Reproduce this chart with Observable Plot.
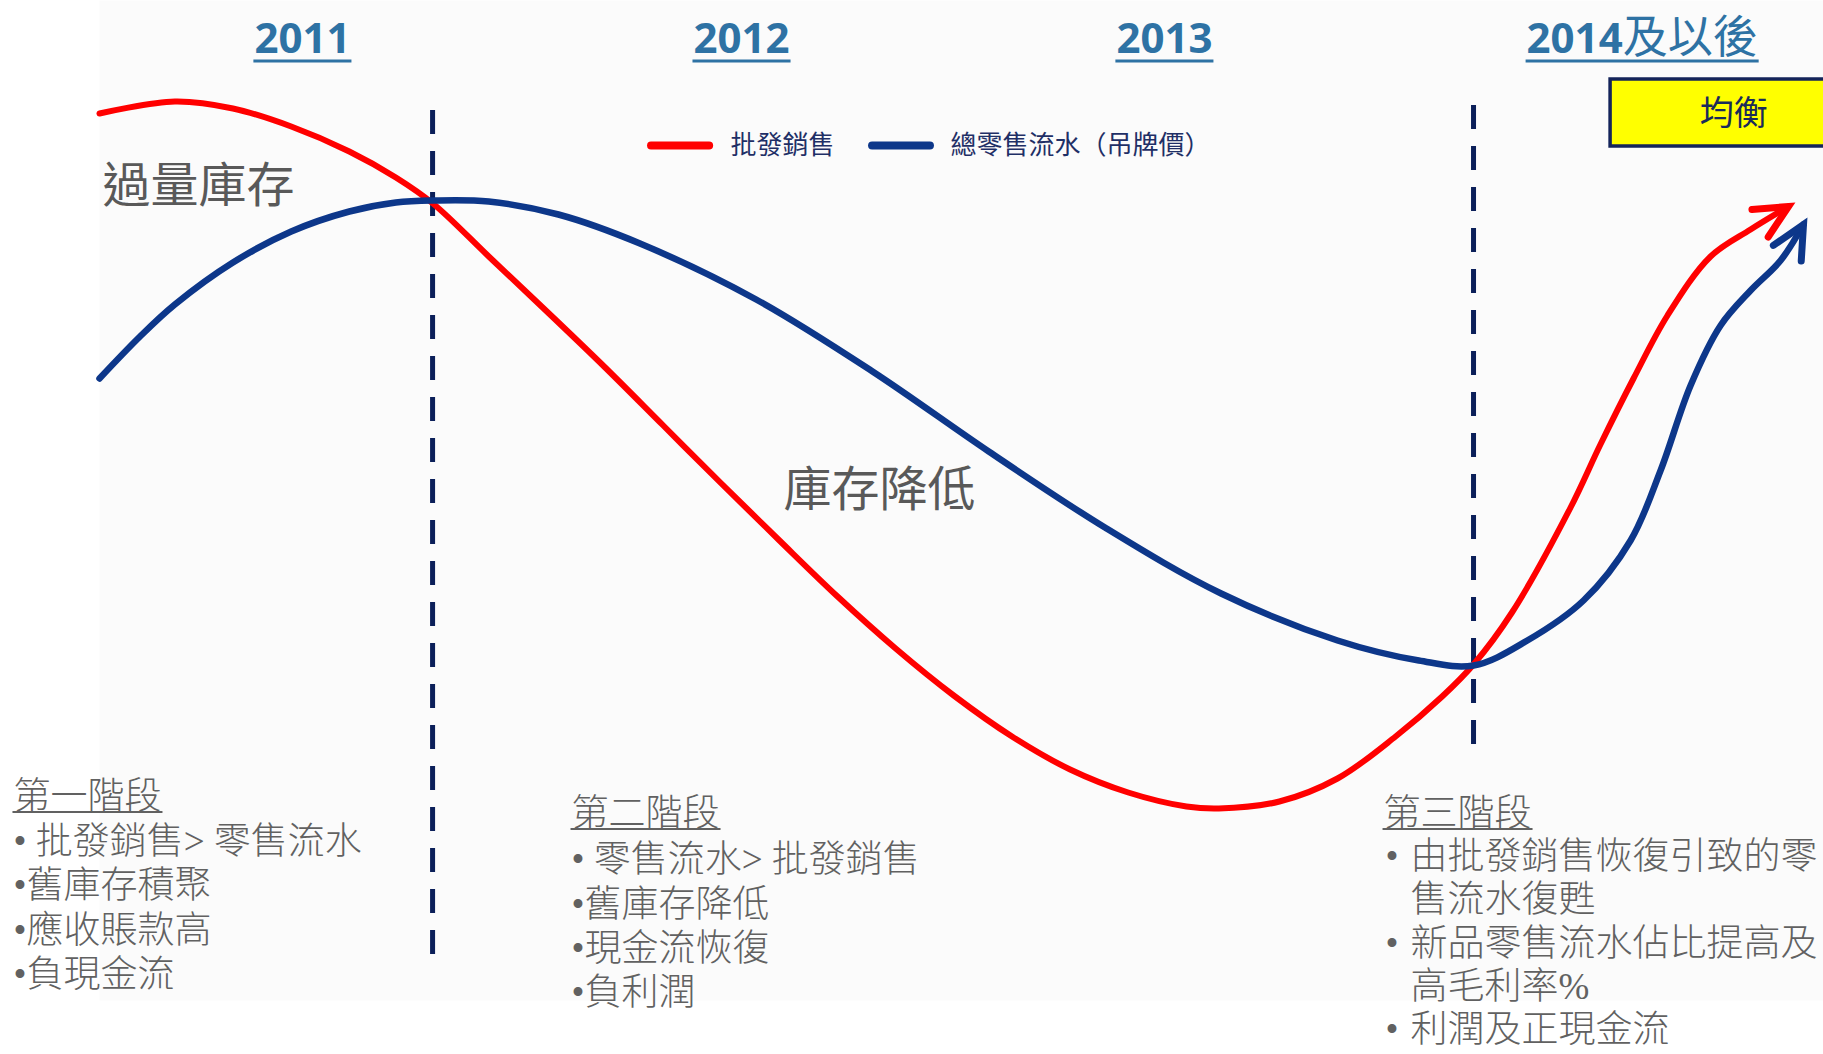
<!DOCTYPE html>
<html>
<head>
<meta charset="utf-8">
<script src="https://cdn.jsdelivr.net/npm/d3@7"></script>
<script src="https://cdn.jsdelivr.net/npm/@observablehq/plot@0.6"></script>
<style>
  html, body { margin: 0; padding: 0; background: #ffffff; }
  #chart { width: 1823px; height: 1054px; overflow: hidden; }
</style>
</head>
<body>
<div id="chart"></div>
<script>
// ---------- DATA (timeline position in % of panel width, level index in %) ----------
const years = ["2011", "2012", "2013", "2014及以後"];
const yearT = [11.77, 37.24, 61.77, 89.73];

const seriesNames = ["批發銷售", "總零售流水（吊牌價）"];
const seriesColors = ["#ff0000", "#0d378a"];

const wholesaleT = [0, 4.37, 7.74, 11.12, 14.49, 17.19, 19.34, 22.58, 25.95, 29.33, 32.7, 36.07, 39.44, 42.81, 46.18, 49.55, 52.93, 56.3, 59.67, 63.05, 64.93, 68.44, 71.81, 75.18, 77.88, 79.7, 81.93, 85.3, 87.06, 88.98, 90.95, 93.45, 95.77, 97.97];
const wholesaleV = [88.7, 89.9, 89.2, 87.4, 84.9, 82.3, 79.7, 74.4, 68.9, 63.3, 57.5, 51.7, 46.0, 40.4, 35.2, 30.5, 26.4, 23.1, 20.8, 19.4, 19.2, 19.9, 22.2, 26.4, 30.4, 33.6, 38.8, 49.2, 55.6, 62.2, 68.5, 74.4, 77.1, 79.4];

const retailT = [0, 2.35, 4.37, 7.74, 11.12, 14.49, 17.19, 19.34, 22.58, 26.62, 31.35, 38.09, 44.84, 51.58, 58.32, 65.06, 71.81, 76.53, 79.7, 82.82, 86.08, 88.81, 90.55, 92.29, 94.03, 95.77, 97.51, 98.84];
const retailV = [62.2, 66.4, 69.6, 73.8, 76.9, 78.9, 79.8, 80.0, 79.9, 78.6, 75.7, 70.1, 62.9, 54.9, 47.3, 40.7, 36.0, 34.0, 33.5, 36.0, 40.0, 46.0, 53.0, 61.5, 67.5, 71.0, 74.0, 77.6];

const stageBreakT = [19.32, 79.7];
const stageBreakTop = [89.0, 89.5];
const stageBreakBottom = [3.5, 24.4];

const stageTitles = ["第一階段", "第二階段", "第三階段"];
const stageTitleT = [-4.99, 27.38, 74.48];
const stageTitleV = [20.3, 18.6, 18.6];

const stageLines = [
  "• 批發銷售> 零售流水\n•舊庫存積聚\n•應收賬款高\n•負現金流",
  "• 零售流水> 批發銷售\n•舊庫存降低\n•現金流恢復\n•負利潤",
  "由批發銷售恢復引致的零\n售流水復甦\n新品零售流水佔比提高及\n高毛利率%\n利潤及正現金流"
];
const stageLinesT = [-4.99, 27.38, 76.04];
const stageLinesV = [9.43, 7.6, 5.86];
const stageLineHeight = [1.2, 1.2, 1.17];
const stage3Bullets = "•\n\n•\n\n•";
const stage3BulletT = 74.6;

const phaseLabels = ["過量庫存", "庫存降低"];
const phaseT = [0.17, 45.24];
const phaseV = [81.4, 51.0];

const balanceLabel = "均衡";
const balanceBox = {t1: 87.65, t2: 103, v1: 85.4, v2: 92.1, tt: 94.8, tv: 88.6};

const legendV = 85.5;
const legendSwatchT1 = [32.02, 44.84];
const legendSwatchT2 = [35.39, 48.2];
const legendTextT = [36.6, 49.36];

// ---------- tables built from the arrays ----------
const wholesale = wholesaleT.map((t, i) => ({t, v: wholesaleV[i]}));
const retail = retailT.map((t, i) => ({t, v: retailV[i]}));
const breaks = stageBreakT.map((t, i) => ({t, top: stageBreakTop[i], bottom: stageBreakBottom[i]}));

const YEAR_BASE_V = 94.8;          // baseline of year headers
const YEAR_SPLIT_T = 88.35;        // where digits end and the CJK suffix begins (suffixed header)
const yearRows = years.map((y, i) => {
  const digits = y.match(/^\d+/)[0];
  return {digits, suffix: y.slice(digits.length), t: yearT[i]};
});
const yearPlain = yearRows.filter(d => !d.suffix);
const yearSuffixed = yearRows.filter(d => d.suffix);

const titleRows = stageTitles.map((s, i) => ({label: s, t: stageTitleT[i], v: stageTitleV[i]}));
const lineRows = stageLines.map((s, i) => ({label: s, t: stageLinesT[i], v: stageLinesV[i], lh: stageLineHeight[i]}));
const phaseRows = phaseLabels.map((s, i) => ({label: s, t: phaseT[i], v: phaseV[i]}));
const legendRows = seriesNames.map((s, i) => ({label: s, color: seriesColors[i], t1: legendSwatchT1[i], t2: legendSwatchT2[i], tt: legendTextT[i]}));

const svgns = "http://www.w3.org/2000/svg";
function arrowHead(color, context) {
  const doc = (context && context.document) || document;
  const m = doc.createElementNS(svgns, "marker");
  m.setAttribute("viewBox", "-45 -45 90 90");
  m.setAttribute("markerWidth", "90");
  m.setAttribute("markerHeight", "90");
  m.setAttribute("markerUnits", "userSpaceOnUse");
  m.setAttribute("orient", "auto");
  m.setAttribute("fill", "none");
  m.setAttribute("stroke", color);
  m.setAttribute("stroke-width", "7");
  m.setAttribute("stroke-linecap", "round");
  m.setAttribute("stroke-linejoin", "miter");
  const p = doc.createElementNS(svgns, "path");
  p.setAttribute("d", "M-33,-16L0,0L-33,16");
  m.appendChild(p);
  return m;
}

const cjkSans = "'Noto Sans CJK TC', 'Noto Sans CJK SC', sans-serif";
const bodyFont = "'Liberation Serif', 'Noto Sans CJK TC', serif";
const yearFont = "'Open Sans', 'Noto Sans CJK TC', sans-serif";
const gray = "#616161";
const yearBlue = "#2e72a4";

const marks = [
  Plot.frame({fill: "#fbfbfb", stroke: "none"}),
  // stage boundaries
  Plot.ruleX(breaks, {x: "t", y1: "top", y2: "bottom", stroke: "#0b1f59", strokeWidth: 5, strokeDasharray: "24,17"}),
  // series
  Plot.line(wholesale, {x: "t", y: "v", stroke: seriesColors[0], strokeWidth: 6, curve: "catmull-rom", strokeLinecap: "round", markerEnd: arrowHead}),
  Plot.line(retail, {x: "t", y: "v", stroke: seriesColors[1], strokeWidth: 6.5, curve: "catmull-rom", strokeLinecap: "round", markerEnd: arrowHead}),
  // legend
  Plot.ruleY(legendRows, {y: () => legendV, x1: "t1", x2: "t2", stroke: "color", strokeWidth: 8, strokeLinecap: "round"}),
  Plot.text(legendRows, {x: "tt", y: () => legendV, text: "label", textAnchor: "start", fontSize: 26, fontFamily: cjkSans, fill: "#1f2f66"}),
  // year headers
  Plot.text(yearPlain, {x: "t", y: () => YEAR_BASE_V, text: "digits", lineAnchor: "bottom", fontSize: 42, fontWeight: "bold", fontFamily: yearFont, fill: yearBlue}),
  Plot.text(yearSuffixed, {x: () => YEAR_SPLIT_T, y: () => YEAR_BASE_V, text: "digits", lineAnchor: "bottom", textAnchor: "end", fontSize: 42, fontWeight: "bold", fontFamily: yearFont, fill: yearBlue}),
  Plot.text(yearSuffixed, {x: () => YEAR_SPLIT_T, y: () => YEAR_BASE_V, text: "suffix", lineAnchor: "bottom", textAnchor: "start", fontSize: 45, fontFamily: cjkSans, fill: yearBlue}),
  // phase labels
  Plot.text(phaseRows.slice(0, 1), {x: "t", y: "v", text: "label", textAnchor: "start", fontSize: 48, fontFamily: cjkSans, fill: "#595959"}),
  Plot.text(phaseRows.slice(1), {x: "t", y: "v", text: "label", textAnchor: "middle", fontSize: 48, fontFamily: cjkSans, fill: "#595959"}),
  // balance box
  Plot.rect([balanceBox], {x1: "t1", x2: "t2", y1: "v1", y2: "v2", fill: "#ffff00", stroke: "#14245a", strokeWidth: 3.5}),
  Plot.text([balanceBox], {x: "tt", y: "tv", text: () => balanceLabel, fontSize: 34, fontFamily: cjkSans, fill: "#1a2a5a"}),
  // stage text
  Plot.text(titleRows, {x: "t", y: "v", text: "label", textAnchor: "start", fontSize: 37, fontWeight: 300, fontFamily: bodyFont, fill: gray}),
  ...lineRows.map(r => Plot.text([r], {x: "t", y: "v", text: "label", textAnchor: "start", fontSize: 37, fontWeight: 300, lineHeight: r.lh, fontFamily: bodyFont, fill: gray})),
  Plot.text([stage3Bullets], {x: () => stage3BulletT, y: () => stageLinesV[2], text: d => d, textAnchor: "start", fontSize: 37, lineHeight: stageLineHeight[2], fontFamily: bodyFont, fill: gray})
];

const plot = Plot.plot({
  width: 1823,
  height: 1054,
  marginLeft: 99, marginRight: 0, marginTop: 0, marginBottom: 54,
  x: {domain: [0, 100], axis: null},
  y: {domain: [0, 100], axis: null},
  style: {background: "#ffffff", overflow: "visible"},
  marks
});

const host = document.getElementById("chart");
host.append(plot);

// ---------- underline decorations for headers ----------
const yS = plot.scale("y");
const base = plot.getBoundingClientRect();
const allTexts = Array.from(plot.querySelectorAll("text"));
function unionRect(strs) {
  let l = Infinity, r = -Infinity;
  allTexts.forEach(el => {
    if (strs.includes(el.textContent)) {
      const b = el.getBoundingClientRect();
      l = Math.min(l, b.left); r = Math.max(r, b.right);
    }
  });
  return [l - base.left, r - base.left];
}
function drawUnderline(strs, y, color, width) {
  const [x1, x2] = unionRect(strs);
  if (!isFinite(x1)) return;
  d3.select(plot).append("line")
    .attr("x1", x1 - 1).attr("x2", x2 + 1)
    .attr("y1", y).attr("y2", y)
    .attr("stroke", color).attr("stroke-width", width);
}
yearRows.forEach(d => drawUnderline([d.digits, d.suffix].filter(Boolean), yS.apply(YEAR_BASE_V) + 9, yearBlue, 3));
titleRows.forEach(d => drawUnderline([d.label], yS.apply(d.v) + 15, gray, 2));
</script>
</body>
</html>
